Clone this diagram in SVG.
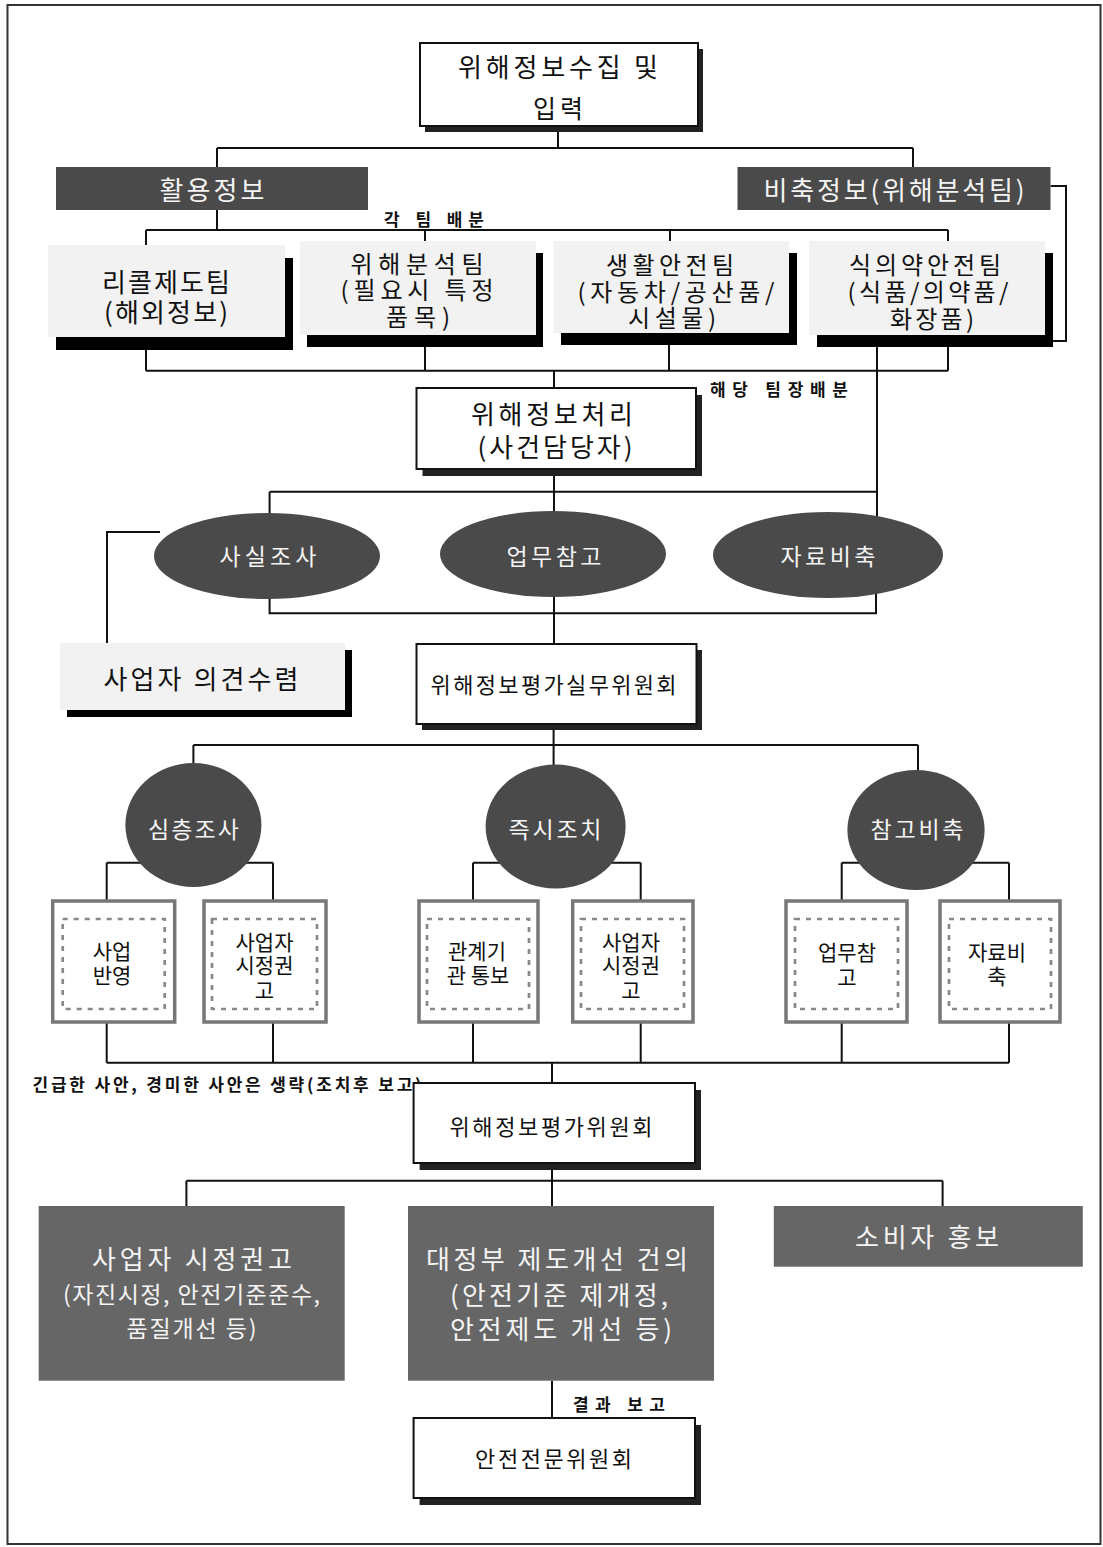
<svg xmlns="http://www.w3.org/2000/svg" width="1103" height="1547" viewBox="0 0 1103 1547">
<style>
text{font-family:"Noto Sans CJK KR","Noto Sans",sans-serif;dominant-baseline:central;text-anchor:middle;}
tspan{dominant-baseline:central;}
.t{font-size:26px;fill:#111;}
.tw{font-size:26px;fill:#f4f4f4;}
.m{font-size:22px;}
.s{font-size:23px;}
.k{font-size:24px;}
.td{font-size:21px;fill:#111;}
.lb{font-size:17px;font-weight:bold;fill:#111;}
.box{fill:#fff;stroke:#111;stroke-width:2;}
.sh{fill:#222;}
.bk{fill:#000;}
.lt{fill:#f2f2f2;}
.dk{fill:#4a4a4a;}
.gr{fill:#666;}
.ob{fill:#fff;stroke:#777;stroke-width:3.5;}
.ib{fill:none;stroke:#888;stroke-width:2.7;stroke-dasharray:5 6;}
.c{fill:none;stroke:#111;stroke-width:2;}
</style>
<rect x="7.5" y="5" width="1093" height="1539" fill="#fff" stroke="#333" stroke-width="2"/>
<g id="connectors" class="c">
<path d="M558,131V148M217,148H913M217,148V167M913,148V167"/>
<path d="M1050.6,186H1066V341H1053"/>
<path d="M217,210V230M146,230H948M146,230V245M425,230V241M670,230V241M948,230V241"/>
<path d="M146,350V370.7M425,347V370.7M669,345V370.7M948,347V370.7M146,370.7H948M554,370.7V388"/>
<path d="M877,347V517"/>
<path d="M554,476V512M269.6,491.7H877M269.6,491.7V514"/>
<path d="M269.6,598V613.3H876V592M554,597V644"/>
<path d="M160,532H107V643"/>
<path d="M553.6,730V745M193.4,745H918M193.4,745V763M918,745V770M553.6,745V765"/>
<path d="M106.7,862.7H273M106.7,862.7V901M273,862.7V901"/>
<path d="M473,862.7H640.7M473,862.7V901M640.7,862.7V901"/>
<path d="M841.7,862.7H1009M841.7,862.7V901M1009,862.7V901"/>
<path d="M106.7,1022V1062.7M273,1022V1062.7M473,1022V1062.7M640.7,1022V1062.7M841.7,1022V1062.7M1009,1022V1062.7M106.7,1062.7H1009M552,1062.7V1083"/>
<path d="M552,1170V1180.7M186.4,1180.7H942.6M186.4,1180.7V1206M552,1180.7V1206M942.6,1180.7V1206"/>
<path d="M552,1380.7V1418"/>
</g>
<g id="n-collect">
<rect class="sh" x="425" y="49" width="278" height="83"/>
<rect class="box" x="420" y="43" width="278" height="83"/>
<text class="t"><tspan x="558" y="65" textLength="200" lengthAdjust="spacing">위해정보수집 및</tspan><tspan x="558" y="107" font-size="25" textLength="50" lengthAdjust="spacing">입력</tspan></text>
</g>
<g id="n-use">
<rect class="dk" x="56" y="167" width="312" height="43"/>
<text class="tw" x="212" y="188" textLength="105" lengthAdjust="spacing">활용정보</text>
</g>
<g id="n-stock">
<rect class="dk" x="737.5" y="167" width="313" height="43"/>
<text class="tw" x="894" y="188" textLength="261" lengthAdjust="spacing">비축정보(위해분석팀)</text>
</g>
<text class="lb" x="434" y="218" textLength="100" lengthAdjust="spacing">각 팀 배분</text>
<g id="n-recall">
<rect class="bk" x="56" y="258" width="237" height="92"/>
<rect class="lt" x="48" y="245" width="237" height="92"/>
<text class="t"><tspan x="166" y="280" textLength="128" lengthAdjust="spacing">리콜제도팀</tspan><tspan x="166" y="310" textLength="124" lengthAdjust="spacing">(해외정보)</tspan></text>
</g>
<g id="n-hazard">
<rect class="bk" x="307" y="253" width="236" height="94"/>
<rect class="lt" x="300" y="241" width="236" height="94"/>
<text class="t k"><tspan x="417" y="262" textLength="133" lengthAdjust="spacing">위해분석팀</tspan><tspan x="417" y="288" textLength="153" lengthAdjust="spacing">(필요시 특정</tspan><tspan x="418" y="315" textLength="64" lengthAdjust="spacing">품목)</tspan></text>
</g>
<g id="n-life">
<rect class="bk" x="561" y="253" width="236" height="92"/>
<rect class="lt" x="553.6" y="241" width="235.4" height="92"/>
<text class="t k"><tspan x="670" y="263" textLength="128" lengthAdjust="spacing">생활안전팀</tspan><tspan x="676" y="290" textLength="197" lengthAdjust="spacing">(자동차/공산품/</tspan><tspan x="672" y="316" textLength="88" lengthAdjust="spacing">시설물)</tspan></text>
</g>
<g id="n-food">
<rect class="bk" x="817" y="253" width="236" height="94"/>
<rect class="lt" x="809" y="241" width="236" height="94"/>
<text class="t k"><tspan x="925" y="263" textLength="152" lengthAdjust="spacing">식의약안전팀</tspan><tspan x="928" y="290" textLength="161" lengthAdjust="spacing">(식품/의약품/</tspan><tspan x="932" y="317" textLength="84" lengthAdjust="spacing">화장품)</tspan></text>
</g>
<text class="lb" x="779" y="388" textLength="138" lengthAdjust="spacing">해당 팀장배분</text>
<g id="n-process">
<rect class="sh" x="422.5" y="395" width="279.5" height="81"/>
<rect class="box" x="416.5" y="388" width="279.5" height="81"/>
<text class="t"><tspan x="552" y="412" textLength="162" lengthAdjust="spacing">위해정보처리</tspan><tspan x="555" y="445" textLength="155" lengthAdjust="spacing">(사건담당자)</tspan></text>
</g>
<g id="n-fact">
<ellipse class="dk" cx="267" cy="556" rx="113" ry="43"/>
<text class="tw s" x="268" y="555" textLength="97" lengthAdjust="spacing">사실조사</text>
</g>
<g id="n-ref">
<ellipse class="dk" cx="553" cy="554" rx="113" ry="43"/>
<text class="tw s" x="554" y="555" textLength="95" lengthAdjust="spacing">업무참고</text>
</g>
<g id="n-store">
<ellipse class="dk" cx="828" cy="555" rx="115" ry="43"/>
<text class="tw s" x="828" y="555" textLength="95" lengthAdjust="spacing">자료비축</text>
</g>
<g id="n-opinion">
<rect class="bk" x="67" y="650" width="285" height="67"/>
<rect class="lt" x="60" y="643" width="285" height="67"/>
<text class="t" x="201" y="677" textLength="195" lengthAdjust="spacing">사업자 의견수렴</text>
</g>
<g id="n-working">
<rect class="sh" x="422" y="650" width="280" height="80"/>
<rect class="box" x="416.5" y="644" width="280" height="80"/>
<text class="t m" x="553.6" y="683" textLength="246" lengthAdjust="spacing">위해정보평가실무위원회</text>
</g>
<g id="n-deep">
<ellipse class="dk" cx="193.4" cy="825" rx="68" ry="62"/>
<text class="tw s" x="193.5" y="828" textLength="91" lengthAdjust="spacing">심층조사</text>
</g>
<g id="n-immediate">
<ellipse class="dk" cx="555.6" cy="826.5" rx="70" ry="62"/>
<text class="tw s" x="555" y="828" textLength="93" lengthAdjust="spacing">즉시조치</text>
</g>
<g id="n-refstock">
<ellipse class="dk" cx="916" cy="830" rx="68.6" ry="60"/>
<text class="tw s" x="917" y="828" textLength="93" lengthAdjust="spacing">참고비축</text>
</g>
<g id="n-b1">
<rect class="ob" x="52.7" y="901" width="122" height="121"/>
<rect class="ib" x="62.7" y="919" width="102" height="90"/>
<text class="td" font-size="22"><tspan x="112" y="950">사업</tspan><tspan x="112" y="974">반영</tspan></text>
</g>
<g id="n-b2">
<rect class="ob" x="204" y="901" width="122" height="121"/>
<rect class="ib" x="212" y="919" width="105" height="90"/>
<text class="td"><tspan x="264.5" y="941">사업자</tspan><tspan x="264.5" y="964">시정권</tspan><tspan x="264.5" y="989">고</tspan></text>
</g>
<g id="n-b3">
<rect class="ob" x="419" y="901" width="119" height="121"/>
<rect class="ib" x="427" y="919" width="102" height="90"/>
<text class="td"><tspan x="477" y="950">관계기</tspan><tspan x="478" y="974">관 통보</tspan></text>
</g>
<g id="n-b4">
<rect class="ob" x="572.7" y="901" width="120.3" height="121"/>
<rect class="ib" x="581" y="919" width="103" height="90"/>
<text class="td"><tspan x="631" y="941">사업자</tspan><tspan x="631" y="964">시정권</tspan><tspan x="631" y="989">고</tspan></text>
</g>
<g id="n-b5">
<rect class="ob" x="786" y="901" width="121" height="121"/>
<rect class="ib" x="795" y="919" width="103" height="90"/>
<text class="td"><tspan x="847" y="951">업무참</tspan><tspan x="847" y="976">고</tspan></text>
</g>
<g id="n-b6">
<rect class="ob" x="940" y="901" width="120" height="121"/>
<rect class="ib" x="949" y="919" width="102" height="90"/>
<text class="td"><tspan x="997" y="951">자료비</tspan><tspan x="997" y="975">축</tspan></text>
</g>
<text class="lb" x="227" y="1083" font-size="18" textLength="389" lengthAdjust="spacing">긴급한 사안, 경미한 사안은 생략(조치후 보고)</text>
<g id="n-committee">
<rect class="sh" x="419.6" y="1090" width="281.4" height="80"/>
<rect class="box" x="413.6" y="1083" width="281.4" height="80"/>
<text class="t m" x="551" y="1125" textLength="203" lengthAdjust="spacing">위해정보평가위원회</text>
</g>
<g id="n-correct">
<rect class="gr" x="38.7" y="1206" width="306" height="174.7"/>
<text class="tw"><tspan x="192" y="1257" textLength="200" lengthAdjust="spacing">사업자 시정권고</tspan><tspan x="191.5" y="1293" font-size="23" textLength="257" lengthAdjust="spacing">(자진시정, 안전기준준수,</tspan><tspan x="191.5" y="1327" font-size="23" textLength="130" lengthAdjust="spacing">품질개선 등)</tspan></text>
</g>
<g id="n-gov">
<rect class="gr" x="408" y="1206" width="306" height="174.7"/>
<text class="tw"><tspan x="557" y="1257" textLength="262" lengthAdjust="spacing">대정부 제도개선 건의</tspan><tspan x="559" y="1293" textLength="218" lengthAdjust="spacing">(안전기준 제개정,</tspan><tspan x="561" y="1327" textLength="222" lengthAdjust="spacing">안전제도 개선 등)</tspan></text>
</g>
<g id="n-consumer">
<rect class="gr" x="773.8" y="1206" width="309" height="60.7"/>
<text class="tw" x="927" y="1235" textLength="144" lengthAdjust="spacing">소비자 홍보</text>
</g>
<text class="lb" x="619" y="1403" textLength="92" lengthAdjust="spacing">결과 보고</text>
<g id="n-expert">
<rect class="sh" x="419.6" y="1425" width="281.4" height="80"/>
<rect class="box" x="413.6" y="1418" width="281.4" height="80"/>
<text class="t m" x="553.6" y="1457" textLength="157" lengthAdjust="spacing">안전전문위원회</text>
</g>
</svg>
